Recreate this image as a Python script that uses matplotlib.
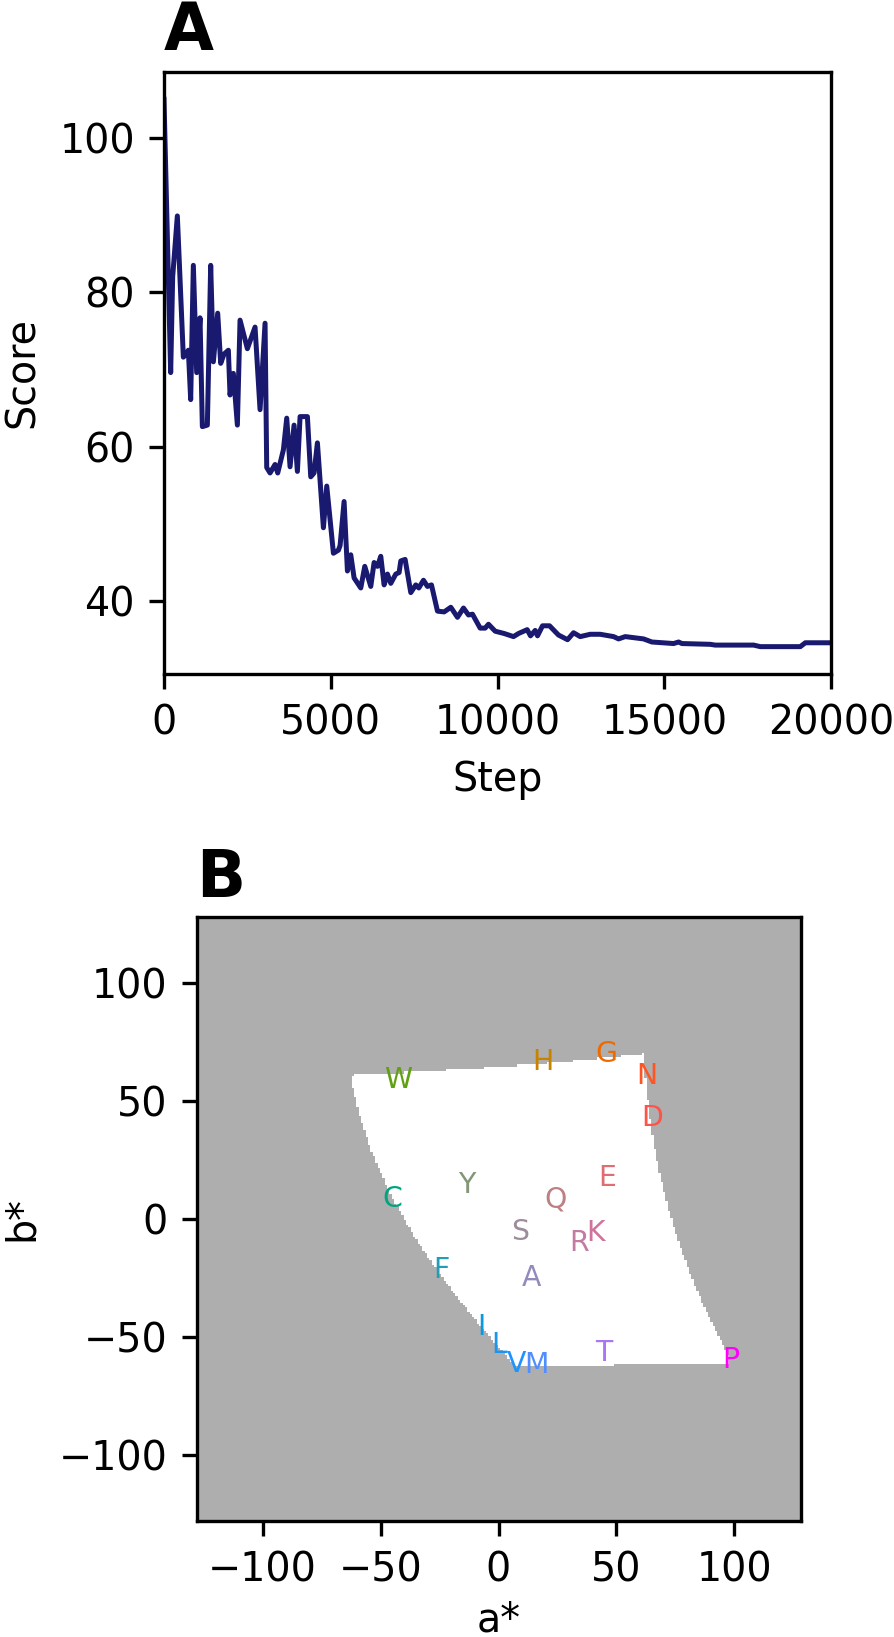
import numpy as np
import matplotlib
matplotlib.use("Agg")
import matplotlib.pyplot as plt
from matplotlib.colors import ListedColormap

# ---------------- data ----------------
steps = [0, 200, 260, 400, 580, 660, 730, 800, 880, 980, 1080, 1150, 1300, 1400,
         1480, 1610, 1700, 1800, 1930, 1980, 2080, 2200, 2280, 2500, 2730, 2880,
         3030, 3080, 3180, 3330, 3410, 3580, 3680, 3780, 3900, 4000, 4080, 4300,
         4400, 4500, 4600, 4780, 4880, 5080, 5230, 5280, 5400, 5500, 5600, 5700,
         5900, 6020, 6200, 6300, 6400, 6500, 6600, 6700, 6800, 6950, 7050, 7100,
         7230, 7400, 7550, 7640, 7780, 7900, 8020, 8200, 8400, 8600, 8800, 8980,
         9130, 9250, 9480, 9630, 9730, 9930, 10200, 10480, 10630, 10890, 10990,
         11130, 11200, 11350, 11560, 11830, 12100, 12280, 12480, 12780, 13080,
         13480, 13630, 13830, 14380, 14630, 15280, 15430, 15530, 16380, 16530,
         17680, 17880, 19080, 19230, 20000]
scores = [105.0, 69.6, 82.0, 89.9, 71.6, 72.0, 72.5, 66.1, 83.5, 69.6, 76.7, 62.6,
          62.8, 83.5, 71.0, 77.3, 70.8, 72.0, 72.5, 66.7, 69.5, 62.8, 76.4, 72.7,
          75.5, 64.8, 76.0, 57.3, 56.6, 57.7, 56.6, 59.6, 63.7, 57.4, 62.8, 56.8,
          63.9, 63.9, 56.1, 56.6, 60.5, 49.5, 54.9, 46.2, 46.6, 47.2, 52.9, 43.9,
          46.0, 43.0, 41.7, 44.5, 41.9, 45.0, 44.5, 45.8, 42.1, 43.5, 42.3, 43.5,
          43.7, 45.2, 45.4, 41.1, 42.1, 41.7, 42.7, 41.9, 42.1, 38.7, 38.6, 39.2,
          37.9, 39.1, 38.2, 38.3, 36.5, 36.5, 37.0, 36.1, 35.8, 35.4, 35.8, 36.3,
          35.5, 36.2, 35.5, 36.8, 36.8, 35.6, 35.0, 35.9, 35.4, 35.7, 35.7, 35.4,
          35.1, 35.4, 35.1, 34.7, 34.5, 34.7, 34.5, 34.4, 34.3, 34.3, 34.1, 34.1,
          34.6, 34.6]

letters = ["W", "H", "G", "N", "D", "E", "Y", "C", "Q", "S", "R", "K", "F", "A",
           "I", "L", "V", "M", "T", "P"]
a_vals = [-42.4, 19.0, 45.9, 62.8, 65.2, 45.9, -13.4, -44.8, 24.3, 9.2, 34.2,
          41.2, -24.3, 14.1, -7.4, 0.3, 7.8, 15.9, 44.4, 98.6]
b_vals = [59.1, 66.7, 69.8, 60.8, 42.7, 17.5, 14.6, 8.6, 8.3, -5.6, -10.1, -5.8,
          -21.5, -25.1, -45.6, -53.4, -61.4, -61.7, -56.7, -59.7]
lightness = 60.0
ab_ticks = [-100, -50, 0, 50, 100]


# ---------------- helpers ----------------
def lab_to_linear_rgb(L, a, b):
    L = np.asarray(L, float); a = np.asarray(a, float); b = np.asarray(b, float)
    fy = (L + 16.0) / 116.0
    fx = fy + a / 500.0
    fz = fy - b / 200.0
    d = 6.0 / 29.0

    def finv(t):
        return np.where(t > d, t ** 3, 3 * d * d * (t - 4.0 / 29.0))

    X = 0.95047 * finv(fx)
    Y = 1.00000 * finv(fy)
    Z = 1.08883 * finv(fz)
    r = 3.2406 * X - 1.5372 * Y - 0.4986 * Z
    g = -0.9689 * X + 1.8758 * Y + 0.0415 * Z
    bb = 0.0557 * X - 0.2040 * Y + 1.0570 * Z
    return r, g, bb


def gamma(c):
    c = np.clip(c, 0, 1)
    return np.where(c <= 0.0031308, 12.92 * c, 1.055 * c ** (1 / 2.4) - 0.055)


plt.rcParams["font.family"] = ["DejaVu Sans"]
FS = 9.5

fig = plt.figure(figsize=(894 / 300, 1637 / 300), dpi=300)
W, H = 894.0, 1637.0

# ---------------- panel A ----------------
axA = fig.add_axes([164 / W, 1 - 674 / H, 667 / W, 602 / H])
axA.plot(steps, scores, color="#191970", lw=1.2)
axA.set_xlim(0, 20000)
axA.set_xticks([0, 5000, 10000, 15000, 20000])
axA.set_yticks([40, 60, 80, 100])
axA.set_xlabel("Step", fontsize=FS)
axA.set_ylabel("Score", fontsize=FS)
axA.tick_params(labelsize=FS)
fig.text(164 / W, 1 - 50 / H, "A", fontsize=15.5, fontweight="bold",
         ha="left", va="baseline")

# ---------------- panel B ----------------
axB = fig.add_axes([196.5 / W, 1 - 1521 / H, 604 / W, 604 / H])
grid = np.arange(-128, 128)
AA, BB = np.meshgrid(grid, grid)
r, g, bl = lab_to_linear_rgb(np.full_like(AA, lightness, dtype=float), AA, BB)
inside = ((r >= 0) & (r <= 1) & (g >= 0) & (g <= 1) & (bl >= 0) & (bl <= 1)).astype(int)
axB.imshow(inside, origin="lower", extent=(-128.5, 127.5, -128.5, 127.5),
           cmap=ListedColormap(["#aeaeae", "#ffffff"]), vmin=0, vmax=1,
           interpolation="nearest")
axB.set_xlim(-128, 128)
axB.set_ylim(-128, 128)
axB.set_xticks(ab_ticks)
axB.set_yticks(ab_ticks)
axB.set_xlabel("a*", fontsize=FS, labelpad=2.5)
axB.set_ylabel("b*", fontsize=FS)
axB.tick_params(labelsize=FS)

lr, lg, lb = lab_to_linear_rgb(np.full(len(a_vals), lightness), a_vals, b_vals)
cols = np.stack([gamma(lr), gamma(lg), gamma(lb)], axis=1)
for ch, x, y, c in zip(letters, a_vals, b_vals, cols):
    axB.text(x, y, ch, color=tuple(c), fontsize=6.8, ha="center", va="center")

fig.text(196 / W, 1 - 897 / H, "B", fontsize=15.5, fontweight="bold",
         ha="left", va="baseline")

fig.savefig("out.png", dpi=300)
